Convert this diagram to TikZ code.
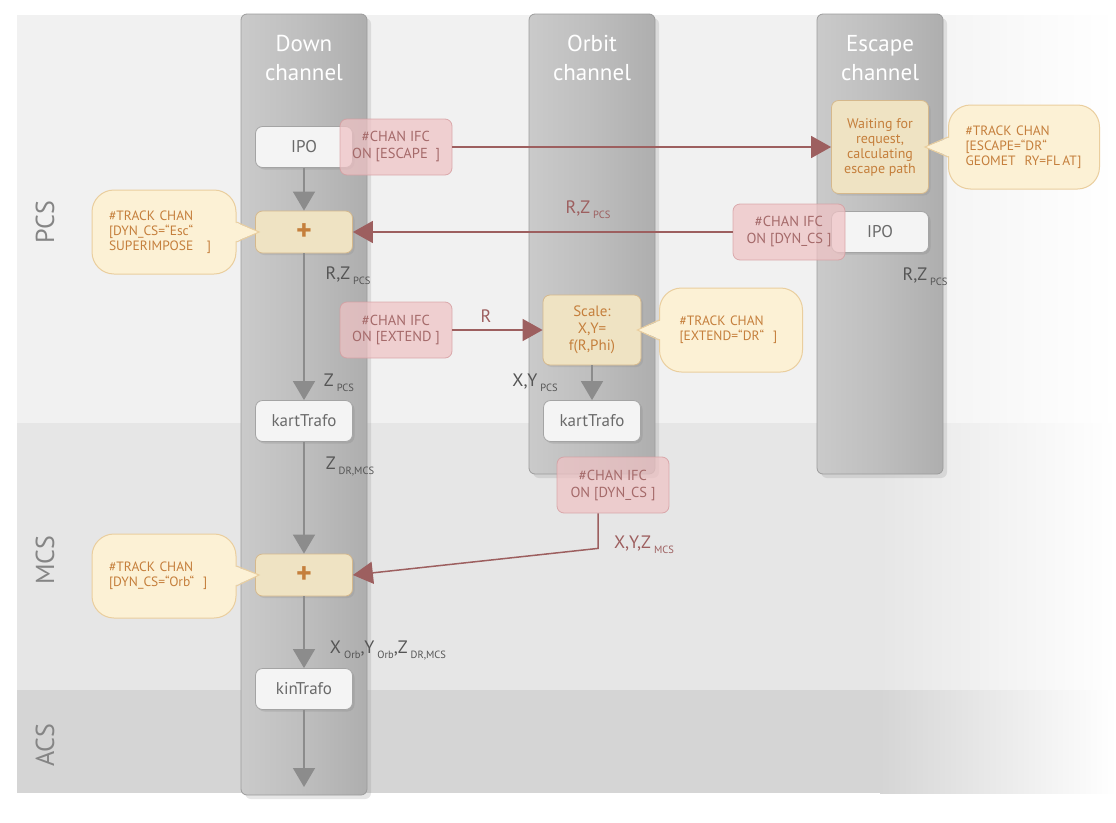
\documentclass[tikz,border=0pt]{standalone}
\usepackage{fontspec}
\setmainfont{PT Sans}
\usetikzlibrary{arrows.meta,shadows}

\definecolor{bandpcs}{HTML}{F1F1F1}
\definecolor{bandmcs}{HTML}{E6E6E6}
\definecolor{bandacs}{HTML}{D5D5D5}
\definecolor{chanleft}{HTML}{CACACA}
\definecolor{chanmid}{HTML}{BEBEBE}
\definecolor{chanright}{HTML}{AEAEAE}
\definecolor{chanline}{HTML}{9C9C9C}
\definecolor{boxfill}{HTML}{F4F4F4}
\definecolor{boxline}{HTML}{A4A4A4}
\definecolor{boxtext}{HTML}{6A6A6A}
\definecolor{tanfill}{HTML}{EFE3C3}
\definecolor{tanline}{HTML}{D5B88C}
\definecolor{tantext}{HTML}{C57F3C}
\definecolor{callfill}{HTML}{FCF1D5}
\definecolor{callline}{HTML}{EACE9E}
\definecolor{ifcfill}{HTML}{EFC2C4}
\definecolor{ifcline}{HTML}{D59C9F}
\definecolor{ifctext}{HTML}{A56A6A}
\definecolor{feedline}{HTML}{9D5F5F}
\definecolor{flowline}{HTML}{8C8C8C}
\definecolor{labeltext}{HTML}{555555}
\definecolor{bandtext}{HTML}{858585}

% small lowered index after a label
\newcommand{\lowidx}[1]{\,{\fontsize{10.5}{10.5}\selectfont\raisebox{-5pt}{#1}}}
% pointer of a speech bubble
\newcommand{\calltip}[4]{%
  \fill [callfill] ([xshift=#3, yshift=10pt]#1.#2) -- #4 -- ([xshift=#3, yshift=-10pt]#1.#2) -- cycle;
  \draw [callline, line width=1pt] ([yshift=10pt]#1.#2) -- #4 -- ([yshift=-10pt]#1.#2);
}

\begin{document}
\begin{tikzpicture}[x=1pt, y=-1pt,
    chan/.style={rounded corners=6pt, left color=chanleft, right color=chanright, middle color=chanmid,
      draw=chanline, line width=0.8pt, drop shadow={shadow xshift=4pt, shadow yshift=-4pt, opacity=0.2}},
    chantitle/.style={align=center, text=white, font=\fontsize{23}{29}\selectfont},
    box/.style={draw=boxline, fill=boxfill, rounded corners=7pt, line width=0.8pt, minimum width=97pt,
      minimum height=41pt, text=boxtext, font=\fontsize{17}{17}\selectfont,
      drop shadow={shadow xshift=2pt, shadow yshift=-2pt, opacity=0.25}},
    work/.style={draw=tanline, fill=tanfill, rounded corners=7pt, line width=0.8pt, minimum width=97pt,
      align=center, text=tantext, font=\fontsize{14}{15}\selectfont,
      drop shadow={shadow xshift=2pt, shadow yshift=-2pt, opacity=0.2}},
    plus/.style={work, minimum height=42pt, font=\fontsize{30}{30}\bfseries\selectfont},
    ifc/.style={draw=ifcline, fill=ifcfill, fill opacity=0.72, draw opacity=0.8, text opacity=1,
      rounded corners=7pt, line width=0.8pt, minimum width=112pt, minimum height=56pt,
      align=center, text=ifctext, font=\fontsize{14.5}{17}\selectfont},
    callout/.style={draw=callline, fill=callfill, rounded corners=22pt, line width=1pt,
      minimum height=84pt, inner xsep=17pt, align=left, text=tantext, font=\fontsize{13.5}{15}\selectfont},
    flow/.style={draw=flowline, line width=1.5pt, -{Triangle[width=22pt, length=19pt]}},
    feed/.style={draw=feedline, line width=1.5pt, -{Triangle[width=22pt, length=20pt]}},
    lbl/.style={text=labeltext, font=\fontsize{18}{18}\selectfont},
    redlbl/.style={text=feedline, font=\fontsize{18}{18}\selectfont},
    bandlabel/.style={rotate=90, text=bandtext, font=\fontsize{26}{26}\selectfont}]
    \useasboundingbox (0, 0) rectangle (1116, 822);

    % layers PCS / MCS / ACS
    \fill [bandpcs] (17, 15) rectangle (880, 423);
    \shade [left color=bandpcs, right color=white] (880, 15) rectangle (1116, 423);
    \fill [bandmcs] (17, 423) rectangle (880, 690);
    \shade [left color=bandmcs, right color=white] (880, 423) rectangle (1116, 690);
    \fill [bandacs] (17, 690) rectangle (880, 793);
    \shade [left color=bandacs, right color=white] (880, 690) rectangle (1116, 793);
    \node [bandlabel] (pcsL) at (45, 222){PCS};
    \node [bandlabel] (mcsL) at (45, 560){MCS};
    \node [bandlabel] (acsL) at (45, 745){ACS};

    % channels
    \path [chan] (241, 14) rectangle (367, 795);
    \path [chan] (529, 14) rectangle (655, 474);
    \path [chan] (817, 14) rectangle (943, 474);
    \node [chantitle] (downT) at (304, 58){Down\\channel};
    \node [chantitle] (orbitT) at (592, 58){Orbit\\channel};
    \node [chantitle] (escT) at (880, 58){Escape\\channel};

    % down channel
    \node [box] (ipoA) at (304, 147){IPO};
    \node [plus] (plusA) at (304, 232){+};
    \node [box] (kartA) at (304, 421){kartTrafo};
    \node [plus] (plusB) at (304, 575){+};
    \node [box] (kinA) at (304, 689){kinTrafo};
    \coordinate (sinkA) at (304, 787);

    % orbit channel
    \node [work, minimum width=98pt, minimum height=70pt, font=\fontsize{15}{17}\selectfont] (scale) at (592, 330){Scale:\\X,Y=\\f(R,Phi)};
    \node [box] (kartB) at (592, 421){kartTrafo};

    % escape channel
    \node [work, minimum height=93pt] (wait) at (880, 147){Waiting for\\request,\\calculating\\escape path};
    \node [box] (ipoB) at (880, 232){IPO};

    % track bubbles
    \node [callout, text width=110pt] (trkEsc) at (164, 232){\#TRACK CHAN\\{[}DYN\_CS=“Esc“\\SUPERIMPOSE\ \ \ ]};
    \calltip{trkEsc}{east}{-3pt}{([xshift=4pt]plusA.west)}
    \node [callout, text width=117pt] (trkGeo) at (1024, 147){\#TRACK CHAN\\{[}ESCAPE=“DR“\\GEOMET\ \ RY=FL\,AT]};
    \calltip{trkGeo}{west}{3pt}{([xshift=-4pt]wait.east)}
    \node [callout, text width=103pt, inner xsep=20pt] (trkExt) at (731, 330){\#TRACK CHAN\\{[}EXTEND=“DR“\ \ ]};
    \calltip{trkExt}{west}{3pt}{([xshift=-4pt]scale.east)}
    \node [callout, text width=110pt] (trkOrb) at (164, 576){\#TRACK CHAN\\{[}DYN\_CS=“Orb“\ \ ]};
    \calltip{trkOrb}{east}{-3pt}{([xshift=4pt]plusB.west)}

    % channel interfaces
    \node [ifc] (ifcEsc) at (396, 147){\#CHAN IFC\\ON [ESCAPE\ \ ]};
    \node [ifc] (ifcDyn) at (789, 232){\#CHAN IFC\\ON [DYN\_CS\ ]};
    \node [ifc] (ifcExt) at (396, 330){\#CHAN IFC\\ON [EXTEND\ ]};
    \node [ifc] (ifcDynB) at (613, 485){\#CHAN IFC\\ON [DYN\_CS\ ]};

    % data flow
    \draw [flow] (ipoA) -- (plusA);
    \draw [flow] (plusA) -- (kartA);
    \draw [flow] (kartA) -- (plusB);
    \draw [flow] (plusB) -- (kinA);
    \draw [flow] (kinA) -- (sinkA);
    \draw [flow] (scale) -- (kartB);
    \draw [feed] (ifcEsc) -- (wait);
    \draw [feed] (ifcDyn) -- (plusA);
    \draw [feed] (ifcExt) -- (scale);
    \draw [feed] ([xshift=-15pt]ifcDynB.south) -- ++(0, 35) -- (plusB.east);

    % signal labels
    \node [lbl] (rzA) at (348, 276){R,Z\lowidx{PCS}};
    \node [lbl] (zA) at (339, 383){Z\lowidx{PCS}};
    \node [lbl] (zdrA) at (350, 466){Z\lowidx{DR,MCS}};
    \node [lbl] (xyzA) at (388, 650){X\lowidx{Orb},Y\lowidx{Orb},Z\lowidx{DR,MCS}};
    \node [redlbl] (rzFeed) at (588, 210){R,Z\lowidx{PCS}};
    \node [lbl] (rzB) at (925, 277){R,Z\lowidx{PCS}};
    \node [redlbl] (rFeed) at (486, 316){R};
    \node [lbl] (xyB) at (535, 383){X,Y\lowidx{PCS}};
    \node [redlbl] (xyzFeed) at (644, 545){X,Y,Z\lowidx{MCS}};
\end{tikzpicture}
\end{document}
